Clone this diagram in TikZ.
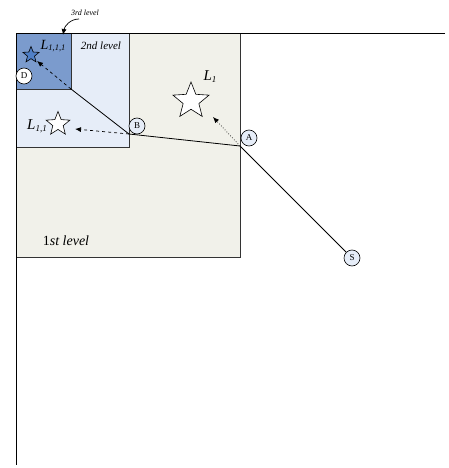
\documentclass[tikz,border=0pt]{standalone}
\usepackage{fontspec}
\setmainfont{Liberation Serif}
\usetikzlibrary{shapes.geometric,arrows.meta}
\definecolor{lvlone}{HTML}{F1F1EA}
\definecolor{lvltwo}{HTML}{E6EDF8}
\definecolor{lvlthree}{HTML}{7B9BCD}
\definecolor{circfill}{HTML}{E6EDF8}
\definecolor{starblue}{HTML}{4F7FC7}
\tikzset{
  pt/.style={circle,draw=black,fill=circfill,line width=0.6pt,inner sep=0pt,minimum size=16pt,font=\fontsize{9}{9}\selectfont},
  starshape/.style={star,star points=5,star point ratio=2.3,draw=black,line width=0.6pt,fill=white,inner sep=0pt},
  ray/.style={line width=0.8pt,black},
  lvlbox/.style={draw=black!80,line width=0.7pt},
  dasharrow/.style={dashed,line width=0.7pt,-{Latex[length=6pt,width=5pt]}},
  dotarrow/.style={dotted,line width=0.7pt,-{Latex[length=6pt,width=5pt]}},
  lbl/.style={inner sep=0pt,font=\itshape}
}
\begin{document}
\begin{tikzpicture}[x=1pt,y=-1pt]
\useasboundingbox (0,0) rectangle (449,468);
% boxes
\draw[lvlbox,fill=lvlone] (16,33) rectangle (240,257);
\draw[lvlbox,fill=lvltwo] (16,33) rectangle (129,147);
\draw[lvlbox,fill=lvlthree] (16,33) rectangle (71,89);
% axes
\draw[line width=0.7pt] (445,33) -- (16,33) -- (16,465);
% junctions
\coordinate (pA) at (240,146);
\coordinate (pB) at (129,134);
\coordinate (pC) at (71,89);
% circles
\node[pt] (cS) at (352,258) {S};
\node[pt] (cA) at (249,138) {A};
\node[pt] (cB) at (137,126) {B};
\node[pt,fill=white] (cD) at (24,76) {D};
% rays
\draw[ray] (cS) -- (pA) -- (pB) -- (pC);
% stars
\node[starshape,minimum size=38pt] (s1) at (191,101) {};
\node[starshape,minimum size=25pt] (s11) at (58,124) {};
\node[starshape,fill=starblue,minimum size=17pt] (s111) at (31,55) {};
% labels
\node[lbl,font=\itshape\fontsize{15}{15}\selectfont] (l1) at (210,77) {L\raisebox{-2pt}{\fontsize{9}{9}\selectfont 1}};
\node[lbl,font=\itshape\fontsize{15}{15}\selectfont] (l11) at (37,126) {L\raisebox{-2pt}{\fontsize{9}{9}\selectfont 1,1}};
\node[lbl,font=\itshape\fontsize{14}{14}\selectfont] (l111) at (53,46) {L\raisebox{-1pt}{\fontsize{8.5}{8.5}\selectfont 1,1,1}};
\node[lbl,font=\itshape\fontsize{11}{11}\selectfont] (l2) at (101,46) {2nd level};
\node[lbl,font=\fontsize{14}{14}\selectfont] (lone) at (66,241) {1\textit{st level}};
\node[lbl,font=\itshape\fontsize{8}{8}\selectfont] (l3) at (85,13) {3rd level};
% arrows
\draw[dasharrow] (pB) -- (75,129);
\draw[dasharrow] (pC) -- (37,61);
\draw[dotarrow] (pA) -- (213,117);
\coordinate (a3end) at (63,35);
\draw[line width=0.7pt,-{Latex[length=6pt,width=5pt]}] (79,19) to[out=180,in=80] (a3end);
\end{tikzpicture}
\end{document}
